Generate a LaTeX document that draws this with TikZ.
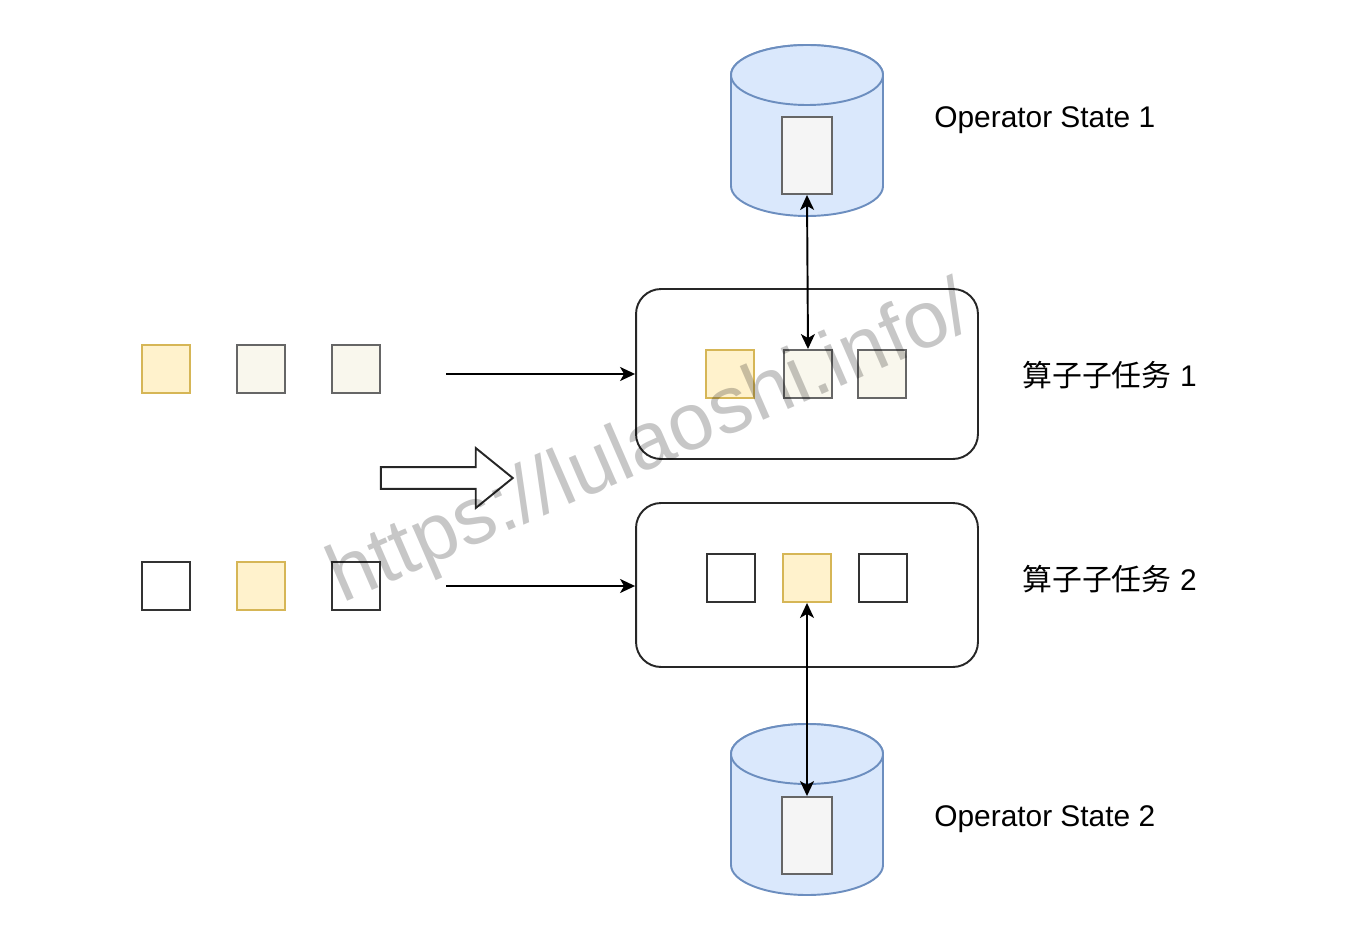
\documentclass[tikz,border=0pt]{standalone}
\usepackage{fontspec}
\setmainfont{Liberation Sans}
\newfontfamily\cjk{Noto Sans CJK SC}
\usepackage{tikz}
\usetikzlibrary{arrows.meta,shapes.arrows}
\definecolor{ylwfill}{HTML}{FFF2CC}
\definecolor{ylwline}{HTML}{D6B656}
\definecolor{paper}{HTML}{F9F7ED}
\definecolor{greyline}{HTML}{666666}
\definecolor{dbfill}{HTML}{DAE8FC}
\definecolor{dbline}{HTML}{6C8EBF}
\definecolor{slot}{HTML}{F5F5F5}

\begin{document}
\begin{tikzpicture}[x=0.02cm, y=0.02cm,
        item/.style = {draw, minimum size=0.96cm, inner sep=0pt, line width=1.1pt},
        hot/.style = {item, draw=ylwline, fill=ylwfill},
        cold/.style = {item, draw=greyline, fill=paper},
        plain/.style = {item, draw=black!80, fill=white},
        task/.style = {draw=black!85, rounded corners=0.5cm, minimum width=6.84cm, line width=1.1pt},
        slotbox/.style = {draw=greyline, fill=slot, minimum width=1cm, minimum height=1.54cm, inner sep=0pt, line width=1.1pt},
        store/.style = {draw=dbline, fill=dbfill, line width=1.1pt},
        lbl/.style = {anchor=west, inner sep=0pt, font=\fontsize{17}{20}\selectfont},
        flow/.style = {-{Stealth[length=0.3cm, width=0.28cm, inset=0.08cm]}, line width=1.1pt},
        link/.style = {{Stealth[length=0.3cm, width=0.28cm, inset=0.08cm]}-{Stealth[length=0.3cm, width=0.28cm, inset=0.08cm]}, line width=1.1pt}]
        \useasboundingbox (0,0) rectangle (1356,-939);
        % operator state cylinders
        \foreach \c in {-75,-754} {
          \filldraw[store] (731,\c) -- (731,\c-111) arc[start angle=180, end angle=360, x radius=76, y radius=30]
            -- (883,\c) arc[start angle=0, end angle=180, x radius=76, y radius=30] -- cycle;
          \draw[store] (807,\c) ellipse[x radius=76, y radius=30];
        }
        \node[slotbox] (st1) at (807,-155.5) {};
        \node[slotbox] (st2) at (807,-835.5) {};
        % subtasks
        \node[task, minimum height=3.4cm] (task1) at (807,-374) {};
        \node[task, minimum height=3.28cm] (task2) at (807,-585) {};
        \node[hot] (t1a) at (730,-374) {};
        \node[cold] (t1b) at (808,-374) {};
        \node[cold] (t1c) at (882,-374) {};
        \node[plain] (t2a) at (731,-578) {};
        \node[hot] (t2b) at (807,-578) {};
        \node[plain] (t2c) at (883,-578) {};
        % incoming records
        \node[hot] (a1) at (166,-369) {};
        \node[cold] (a2) at (261,-369) {};
        \node[cold] (a3) at (356,-369) {};
        \node[plain] (b1) at (166,-586) {};
        \node[hot] (b2) at (261,-586) {};
        \node[plain] (b3) at (356,-586) {};
        \coordinate (in1) at (446,-374);
        \coordinate (in2) at (446,-586);
        \draw[flow] (in1) -- (task1.west);
        \draw[flow] (in2) -- (task2.west |- in2);
        \draw[link] (st1.south) -- (t1b.north);
        \draw[link] (t2b.south) -- (st2.north);
        \node[single arrow, draw=black!85, fill=white, line width=1.1pt, inner sep=0.2cm,
              minimum height=2.64cm, single arrow head extend=0.38cm, single arrow tip angle=78] (move) at (440,-478) {};
        % labels
        \node[lbl] (os1) at (934,-120) {Operator State 1};
        \node[lbl] (os2) at (934,-819) {Operator State 2};
        \node[lbl] (sub1) at (1022,-375) {{\cjk 算子子任务} 1};
        \node[lbl] (sub2) at (1022,-579) {{\cjk 算子子任务} 2};
        \node[rotate=23.5, text=black, opacity=0.22, font=\fontsize{46}{50}\selectfont] (wm) at (651,-446) {https://lulaoshi.info/};
      \end{tikzpicture}
\end{document}
